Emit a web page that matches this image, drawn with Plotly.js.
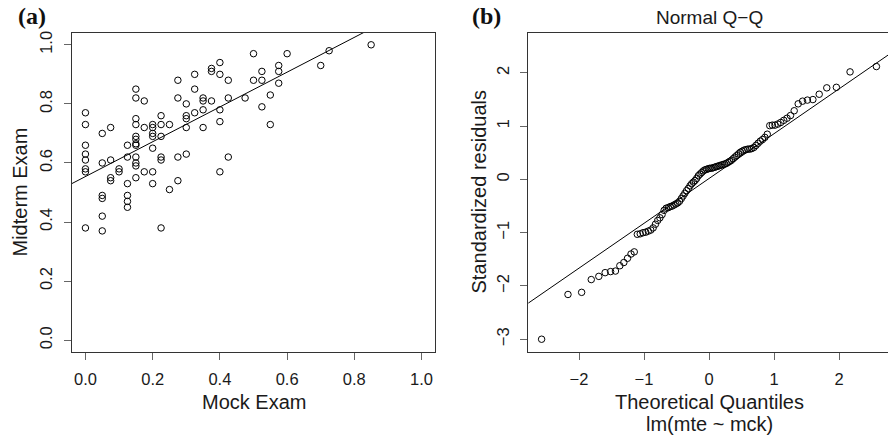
<!DOCTYPE html>
<html><head><meta charset="utf-8">
<script src="https://cdn.plot.ly/plotly-3.0.1.min.js"></script>
<style>html,body{margin:0;padding:0;background:#fff;} #chart{width:888px;height:436px;}</style>
</head><body><div id="chart"></div>
<script>
// ---- Panel (a): scatter of mock vs midterm exam scores ----
const mockExam = [0.40,0.375,0.375,0.325,0.40,0.425,0.275,0.325,0.15,0.15,0.175,0.275,0.30,0.35,0.35,0.375,0.425,0.40,0.35,0.325,
  0.30,0.30,0.225,0.0,0.15,0.0,0.15,0.2,0.2,0.225,0.25,0.175,0.075,0.30,0.35,0.40,0.05,0.15,0.15,0.2,
  0.2,0.225,0.0,0.125,0.15,0.15,0.2,0.0,0.0,0.125,0.15,0.225,0.225,0.275,0.30,0.425,0.05,0.075,0.0,0.0,
  0.15,0.15,0.1,0.1,0.175,0.2,0.40,0.075,0.075,0.15,0.275,0.125,0.2,0.25,
  0.50,0.60,0.725,0.85,0.575,0.575,0.525,0.50,0.525,0.575,0.70,0.55,0.475,0.525,0.55,
  0.05,0.05,0.125,0.125,0.125,0.05,0.0,0.05,0.225];
const midtermExam = [0.94,0.92,0.91,0.90,0.90,0.88,0.88,0.85,0.85,0.82,0.81,0.82,0.80,0.82,0.81,0.81,0.82,0.78,0.78,0.77,
  0.76,0.75,0.76,0.77,0.75,0.73,0.73,0.73,0.72,0.73,0.73,0.72,0.72,0.72,0.72,0.74,0.70,0.69,0.68,0.70,
  0.69,0.69,0.66,0.66,0.66,0.665,0.65,0.63,0.61,0.62,0.62,0.62,0.61,0.62,0.63,0.62,0.60,0.61,0.58,0.57,
  0.60,0.59,0.58,0.57,0.57,0.57,0.57,0.55,0.54,0.55,0.54,0.53,0.53,0.51,
  0.97,0.97,0.98,1.00,0.93,0.91,0.91,0.88,0.88,0.87,0.93,0.83,0.82,0.79,0.73,
  0.49,0.48,0.49,0.47,0.45,0.42,0.38,0.37,0.38];
const scatterTicks = [0.0,0.2,0.4,0.6,0.8,1.0];

// ---- Panel (b): sorted standardized residuals of lm(mte ~ mck) ----
const stdResiduals = [-3.00,-2.16,-2.12,-1.88,-1.82,-1.75,-1.73,-1.72,-1.62,-1.56,
  -1.48,-1.40,-1.36,-1.03,-1.02,-1.00,-0.99,-0.97,-0.95,-0.91,
  -0.84,-0.77,-0.72,-0.66,-0.58,-0.54,-0.53,-0.51,-0.50,-0.48,
  -0.46,-0.44,-0.41,-0.36,-0.31,-0.26,-0.21,-0.17,-0.12,-0.08,
  -0.05,-0.02,0.02,0.07,0.10,0.13,0.16,0.18,0.19,0.20,
  0.21,0.21,0.22,0.23,0.24,0.25,0.26,0.27,0.28,0.29,
  0.30,0.32,0.34,0.36,0.39,0.42,0.45,0.48,0.51,0.53,
  0.55,0.56,0.57,0.57,0.58,0.60,0.64,0.68,0.72,0.75,
  0.79,0.85,1.01,1.02,1.02,1.04,1.07,1.11,1.15,1.20,
  1.29,1.42,1.47,1.49,1.50,1.60,1.72,1.73,2.02,2.12];
const qqXTicks = [-2,-1,0,1,2];
const qqYTicks = [-3,-2,-1,0,1,2];

// inverse standard normal CDF (Acklam)
function qnorm(p){
  const a=[-3.969683028665376e+01,2.209460984245205e+02,-2.759285104469687e+02,1.383577518672690e+02,-3.066479806614716e+01,2.506628277459239e+00];
  const b=[-5.447609879822406e+01,1.615858368580409e+02,-1.556989798598866e+02,6.680131188771972e+01,-1.328068155288572e+01];
  const c=[-7.784894002430293e-03,-3.223964580411365e-01,-2.400758277161838e+00,-2.549732539343734e+00,4.374664141464968e+00,2.938163982698783e+00];
  const d=[7.784695709041462e-03,3.224671290700398e-01,2.445134137142996e+00,3.754408661907416e+00];
  const pl=0.02425, ph=1-pl; let q,r;
  if(p<pl){q=Math.sqrt(-2*Math.log(p));return (((((c[0]*q+c[1])*q+c[2])*q+c[3])*q+c[4])*q+c[5])/((((d[0]*q+d[1])*q+d[2])*q+d[3])*q+1);}
  if(p<=ph){q=p-0.5;r=q*q;return (((((a[0]*r+a[1])*r+a[2])*r+a[3])*r+a[4])*r+a[5])*q/(((((b[0]*r+b[1])*r+b[2])*r+b[3])*r+b[4])*r+1);}
  q=Math.sqrt(-2*Math.log(1-p));return -(((((c[0]*q+c[1])*q+c[2])*q+c[3])*q+c[4])*q+c[5])/((((d[0]*q+d[1])*q+d[2])*q+d[3])*q+1);
}
function quantile7(s,p){const h=(s.length-1)*p;const lo=Math.floor(h);const hi=Math.min(lo+1,s.length-1);return s[lo]+(h-lo)*(s[hi]-s[lo]);}

// least squares fit for panel (a)
const n1 = mockExam.length;
const mx = mockExam.reduce((a,b)=>a+b,0)/n1, my = midtermExam.reduce((a,b)=>a+b,0)/n1;
let sxy=0,sxx=0; for(let i=0;i<n1;i++){sxy+=(mockExam[i]-mx)*(midtermExam[i]-my);sxx+=(mockExam[i]-mx)**2;}
const slopeA = sxy/sxx, interA = my - slopeA*mx;

// theoretical quantiles (ppoints) for panel (b)
const n2 = stdResiduals.length;
const sortedRes = stdResiduals.slice().sort((a,b)=>a-b);
const theoQ = sortedRes.map((_,i)=>qnorm((i+1-0.5)/n2));
const y25 = quantile7(sortedRes,0.25), y75 = quantile7(sortedRes,0.75);
const x25 = qnorm(0.25), x75 = qnorm(0.75);
const slopeB = (y75-y25)/(x75-x25), interB = y25 - slopeB*x25;

const W=888,H=436;
const px=v=>v/W, py=v=>1-v/H;
const xRangeA=[-0.04,1.04], yRangeA=[-0.04,1.04];
const xRangeB=[-2.782,2.754], yRangeB=[-3.24,2.75];

const FONT='"Liberation Sans", Arial, Helvetica, sans-serif';
const tickFont={family:FONT,size:16.5,color:'#1a1a1a'};
const axisCommon={showgrid:false,zeroline:false,showline:true,linecolor:'#333',linewidth:1,
  ticks:'outside',ticklen:7,tickwidth:1,tickcolor:'#666',tickfont:tickFont,fixedrange:true};

const mk={symbol:'circle-open',size:6.5,color:'#000',line:{width:1,color:'#000'}};
const traces=[
  {x:mockExam,y:midtermExam,type:'scatter',mode:'markers',marker:mk,xaxis:'x',yaxis:'y',hoverinfo:'skip'},
  {x:xRangeA,y:xRangeA.map(v=>interA+slopeA*v),type:'scatter',mode:'lines',line:{color:'#000',width:1},xaxis:'x',yaxis:'y',hoverinfo:'skip'},
  {x:theoQ,y:sortedRes,type:'scatter',mode:'markers',marker:mk,xaxis:'x2',yaxis:'y2',hoverinfo:'skip'},
  {x:xRangeB,y:xRangeB.map(v=>interB+slopeB*v),type:'scatter',mode:'lines',line:{color:'#000',width:1},xaxis:'x2',yaxis:'y2',hoverinfo:'skip'}
];

const dom=[py(352),py(33)];
const titleFont={family:FONT,size:20,color:'#1a1a1a'};
const tagFont={family:'"Liberation Serif", "Times New Roman", serif',size:24,color:'#111'};
const layout={
  width:W,height:H,margin:{l:0,r:0,t:0,b:0},paper_bgcolor:'#fff',plot_bgcolor:'#fff',showlegend:false,
  font:{family:FONT,color:'#1a1a1a'},
  xaxis:Object.assign({},axisCommon,{domain:[px(72),px(435)],range:xRangeA,tickvals:scatterTicks,tickformat:'.1f',mirror:true,anchor:'y',ticklabelstandoff:5}),
  yaxis:Object.assign({},axisCommon,{domain:dom,range:yRangeA,tickvals:scatterTicks,tickformat:'.1f',mirror:true,anchor:'x',tickangle:-90,ticklabelstandoff:5}),
  xaxis2:Object.assign({},axisCommon,{domain:[px(528.2),1],range:xRangeB,tickvals:qqXTicks,mirror:true,anchor:'y2',ticklabelstandoff:5}),
  yaxis2:Object.assign({},axisCommon,{domain:dom,range:yRangeB,tickvals:qqYTicks,mirror:false,anchor:'x2',tickangle:-90,ticklabelstandoff:5}),
  annotations:[
    {text:'<b>(a)</b>',x:px(16),y:py(16),xref:'paper',yref:'paper',xanchor:'left',yanchor:'middle',showarrow:false,font:tagFont},
    {text:'<b>(b)</b>',x:px(470),y:py(16),xref:'paper',yref:'paper',xanchor:'left',yanchor:'middle',showarrow:false,font:tagFont},
    {text:'Normal Q\u2212Q',x:px(709),y:py(17),xref:'paper',yref:'paper',xanchor:'center',yanchor:'middle',showarrow:false,font:{family:FONT,size:19,color:'#1a1a1a'}},
    {text:'Mock Exam',x:px(253.5),y:py(402),xref:'paper',yref:'paper',xanchor:'center',yanchor:'middle',showarrow:false,font:titleFont},
    {text:'Midterm Exam',x:px(19),y:py(192.5),xref:'paper',yref:'paper',xanchor:'center',yanchor:'middle',textangle:-90,showarrow:false,font:titleFont},
    {text:'Theoretical Quantiles',x:px(709),y:py(402),xref:'paper',yref:'paper',xanchor:'center',yanchor:'middle',showarrow:false,font:titleFont},
    {text:'lm(mte ~ mck)',x:px(709),y:py(424),xref:'paper',yref:'paper',xanchor:'center',yanchor:'middle',showarrow:false,font:titleFont},
    {text:'Standardized residuals',x:px(478),y:py(192.5),xref:'paper',yref:'paper',xanchor:'center',yanchor:'middle',textangle:-90,showarrow:false,font:titleFont}
  ]
};
Plotly.newPlot('chart',traces,layout,{displayModeBar:false,staticPlot:true});
</script></body></html>
